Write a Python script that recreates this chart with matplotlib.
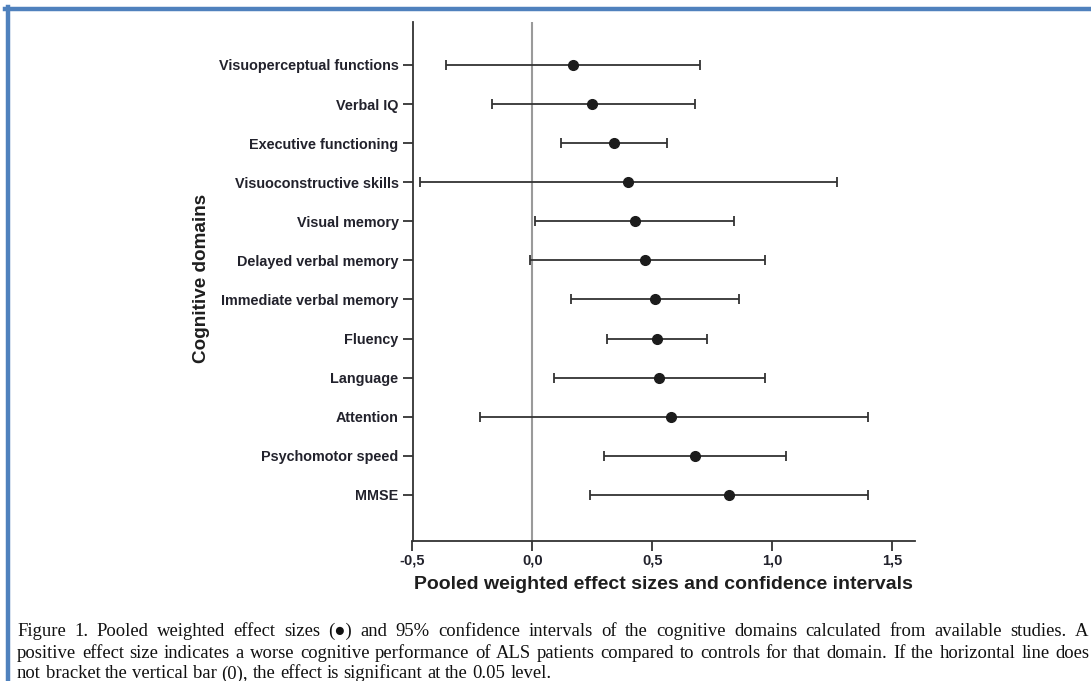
import numpy as np
import matplotlib.pyplot as plt
from matplotlib.lines import Line2D

# Datos (tamaños de efecto e IC 95%)
dominios = ['Visuoperceptual functions', 'Verbal IQ', 'Executive functioning',
            'Visuoconstructive skills', 'Visual memory', 'Delayed verbal memory',
            'Immediate verbal memory', 'Fluency', 'Language', 'Attention',
            'Psychomotor speed', 'MMSE']
efecto = [0.17, 0.25, 0.34, 0.40, 0.43, 0.47, 0.51, 0.52, 0.53, 0.58, 0.68, 0.82]
ic_bajo = [-0.36, -0.17, 0.12, -0.47, 0.01, -0.01, 0.16, 0.31, 0.09, -0.22, 0.30, 0.24]
ic_alto = [0.70, 0.68, 0.56, 1.27, 0.84, 0.97, 0.86, 0.73, 0.97, 1.40, 1.06, 1.40]
ticks_x = [-0.5, 0.0, 0.5, 1.0, 1.5]
etiquetas_x = ['-0,5', '0,0', '0,5', '1,0', '1,5']

lineas_texto = [
    "Figure 1. Pooled weighted effect sizes (\u25CF) and 95% confidence intervals of the cognitive domains "
    "calculated from available studies. A",
    "positive effect size indicates a worse cognitive performance of ALS patients compared to controls "
    "for that domain. If the horizontal line does",
    "not bracket the vertical bar (0), the effect is significant at the 0.05 level.",
]

plt.rcParams['font.family'] = ['Liberation Sans', 'DejaVu Sans']

W, H = 1091, 681
fig = plt.figure(figsize=(W / 100, H / 100), dpi=100)
ax = fig.add_axes([412.5 / W, 1 - 541 / H, 502.5 / W, 519 / H])

y = np.arange(len(dominios))
efecto = np.array(efecto)
err = [efecto - np.array(ic_bajo), np.array(ic_alto) - efecto]

ax.axvline(0, color='#9a9a9a', lw=1.5, zorder=1)
ax.errorbar(efecto, y, xerr=err, fmt='o', color='#1c1c1c', ecolor='#333333',
            elinewidth=1.3, capsize=3.5, capthick=1.3, markersize=7, zorder=3)

ax.set_xlim(-0.5, 1.596)
ax.set_ylim(len(dominios) - 1 + 1.18, -1.1)
ax.set_yticks(y)
ax.set_yticklabels(dominios, fontsize=10.4, fontweight='bold', color='#22222c')
ax.set_xticks(ticks_x)
ax.set_xticklabels(etiquetas_x, fontsize=10.5, fontweight='bold', color='#22222c')
ax.tick_params(axis='both', length=7, width=1.3, color='#333333', pad=3)
ax.tick_params(axis='x', pad=2)

for s in ['top', 'right']:
    ax.spines[s].set_visible(False)
for s in ['left', 'bottom']:
    ax.spines[s].set_linewidth(1.3)
    ax.spines[s].set_color('#333333')

ax.set_xlabel('Pooled weighted effect sizes and confidence intervals',
              fontsize=14, fontweight='bold', color='#1e1e1e')
ax.xaxis.set_label_coords(0.5, -0.068)
ax.set_ylabel('Cognitive domains', fontsize=13.6, fontweight='bold', color='#1e1e1e')
ax.yaxis.set_label_coords(-0.402, 0.505)

# Leyenda de la figura, justificada palabra por palabra
fam = ['Liberation Serif', 'DejaVu Sans']
tam = 13.4
renderer = fig.canvas.get_renderer()
x0 = 17
bases = [636, 657.5, 678.5]
fines = [1088, 1089, None]
for linea, base, fin in zip(lineas_texto, bases, fines):
    palabras = linea.split(' ')
    textos = [fig.text(0, 1 - base / H, p, fontsize=tam, family=fam, color='#111111',
                       ha='left', va='baseline') for p in palabras]
    anchos = [t.get_window_extent(renderer).width for t in textos]
    if fin is None:
        hueco = tam * 0.25 * 100 / 72
    else:
        hueco = (fin - x0 - sum(anchos)) / (len(palabras) - 1)
    x = x0
    for t, w in zip(textos, anchos):
        t.set_x(x / W)
        x += w + hueco

# Marco azul
fig.add_artist(Line2D([5 / W, 1], [1 - 9 / H, 1 - 9 / H], color='#4F81BD', lw=3.2))
fig.add_artist(Line2D([7.5 / W, 7.5 / W], [0, 1 - 7 / H], color='#4F81BD', lw=3.2))

fig.savefig('out.png', dpi=100)
